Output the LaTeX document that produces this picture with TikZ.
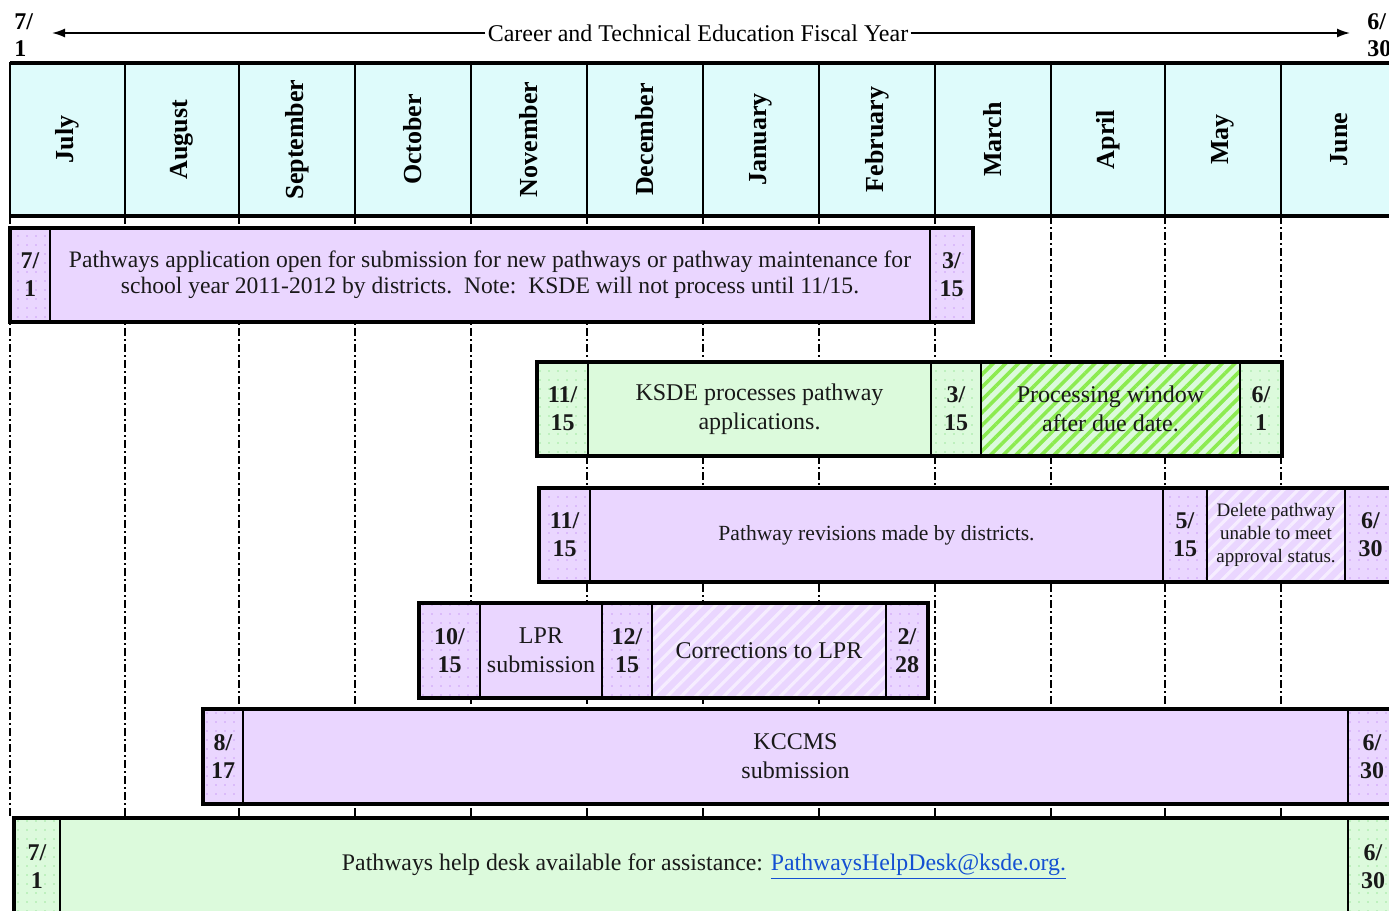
\documentclass[tikz,border=0pt]{standalone}
\usepackage{fontspec}
\setmainfont{Liberation Serif}
\usepackage{graphicx}
\usetikzlibrary{patterns.meta,arrows.meta}
\definecolor{hdr}{RGB}{222,251,251}
\definecolor{purp}{RGB}{234,214,255}
\definecolor{purdot}{RGB}{205,160,245}
\definecolor{grn}{RGB}{220,250,220}
\definecolor{grndot}{RGB}{160,230,160}
\definecolor{grnhatch}{RGB}{140,235,80}
\definecolor{linkblue}{RGB}{20,80,210}
\tikzset{
  x=0.5pt, y=-0.5pt,
  cell/.style={draw=black, line width=1pt, inner sep=0pt, outer sep=0pt, align=center, text=black!90},
  pmain/.style={fill=purp},
  gmain/.style={fill=grn},
  pdate/.style={preaction={fill=purp}, pattern={Dots[distance=4.5pt,radius=0.45pt]}, pattern color=purdot,
     font=\bfseries\fontsize{12}{14}\selectfont},
  gdate/.style={preaction={fill=grn}, pattern={Dots[distance=4.5pt,radius=0.45pt]}, pattern color=grndot,
     font=\bfseries\fontsize{12}{14}\selectfont},
  phatch/.style={preaction={fill=purp}, pattern={Lines[angle=45,distance=5pt,line width=1.6pt]}, pattern color=white!55!purp},
  ghatch/.style={preaction={fill=grn}, pattern={Lines[angle=45,distance=4.5pt,line width=1.8pt]}, pattern color=grnhatch},
  month/.style={draw=black, line width=1pt, fill=hdr, inner sep=0pt, outer sep=0pt,
     font=\bfseries\fontsize{13}{15}\selectfont},
  barframe/.style={draw=black, line width=1.6pt},
  grid/.style={line width=0.6pt, dash pattern=on 4pt off 1.5pt on 1pt off 1.5pt},
  arr/.style={line width=0.8pt, -{Latex[length=6.5pt,width=4.5pt]}},
}
% name, x1, x2, y1, y2, style, text
\newcommand\cellbox[7]{%
  \node[cell,#6, minimum width={(#3-#2)*0.5pt}, minimum height={(#5-#4)*0.5pt}]
     (#1) at ({(#2+#3)/2},{(#4+#5)/2}) {#7};}
\newcommand\monthbox[4]{%
  \node[month, minimum width={(#3-#2)*0.5pt}, minimum height={76.5pt}]
     (#1) at ({(#2+#3)/2},139.5) {\rotatebox{90}{#4}};}
\begin{document}
\begin{tikzpicture}
\useasboundingbox (0,0) rectangle (1389,911);
\clip (0,0) rectangle (1389,911);
\fill[white] (0,0) rectangle (1389,911);

% top line
\node[inner sep=1pt, font=\fontsize{12}{14}\selectfont] (title) at (698,33) {Career and Technical Education Fiscal Year};
\coordinate (al) at (52,33);
\coordinate (ar) at (1350,33);
\draw[arr] (title.west) -- (al);
\draw[arr] (title.east) -- (ar);
\node[anchor=west, align=left, inner sep=0pt, font=\bfseries\fontsize{12}{13.5}\selectfont] (d0) at (14,35) {7/\\1};
\node[anchor=west, align=left, inner sep=0pt, font=\bfseries\fontsize{12}{13.5}\selectfont] (d1) at (1367,35) {6/\\30};

% grid lines
\foreach \gx in {10,125,239,355,471,587,703,819,935,1051,1165,1281}
  \draw[grid] (\gx,216) -- (\gx,818);

% month header
\monthbox{m1}{10}{125}{July}
\monthbox{m2}{125}{239}{August}
\monthbox{m3}{239}{355}{September}
\monthbox{m4}{355}{471}{October}
\monthbox{m5}{471}{587}{November}
\monthbox{m6}{587}{703}{December}
\monthbox{m7}{703}{819}{January}
\monthbox{m8}{819}{935}{February}
\monthbox{m9}{935}{1051}{March}
\monthbox{m10}{1051}{1165}{April}
\monthbox{m11}{1165}{1281}{May}
\monthbox{m12}{1281}{1397}{June}
\draw[line width=1.6pt] (m1.north west) -- (m12.north east);
\draw[line width=1.6pt] (m1.south west) -- (m12.south east);

% bar 1
\cellbox{a1}{10}{50}{228}{322}{pdate}{7/\\1}
\cellbox{a2}{50}{930}{228}{322}{pmain, font=\fontsize{11.8}{13}\selectfont}{Pathways application open for submission for new pathways or pathway maintenance for\\school year 2011-2012 by districts.\ \ Note:\ \ KSDE will not process until 11/15.}
\cellbox{a3}{930}{973}{228}{322}{pdate}{3/\\15}
\draw[barframe] (a1.north west) rectangle (a3.south east);

% bar 2
\cellbox{b1}{537}{588}{362}{456}{gdate}{11/\\15}
\cellbox{b2}{588}{931}{362}{456}{gmain, font=\fontsize{12}{14.5}\selectfont}{KSDE processes pathway\\applications.}
\cellbox{b3}{931}{981}{362}{456}{gdate}{3/\\15}
\cellbox{b4}{981}{1240}{362}{456}{ghatch, font=\fontsize{12}{14.5}\selectfont}{Processing window\\after due date.}
\cellbox{b5}{1240}{1282}{362}{456}{gdate}{6/\\1}
\draw[barframe] (b1.north west) rectangle (b5.south east);

% bar 3
\cellbox{c1}{539}{590}{488}{582}{pdate}{11/\\15}
\cellbox{c2}{590}{1163}{488}{582}{pmain, font=\fontsize{10.8}{13}\selectfont}{Pathway revisions made by districts.}
\cellbox{c3}{1163}{1207}{488}{582}{pdate}{5/\\15}
\cellbox{c4}{1207}{1345}{488}{582}{phatch, font=\fontsize{9.5}{11.5}\selectfont}{Delete pathway\\unable to meet\\approval status.}
\cellbox{c5}{1345}{1396}{488}{582}{pdate}{6/\\30}
\draw[barframe] (c1.north west) rectangle (c5.south east);

% bar 4
\cellbox{e1}{419}{480}{603}{698}{pdate}{10/\\15}
\cellbox{e2}{480}{602}{603}{698}{pmain, font=\fontsize{12}{14.5}\selectfont}{LPR\\submission}
\cellbox{e3}{602}{652}{603}{698}{pdate}{12/\\15}
\cellbox{e4}{652}{886}{603}{698}{phatch, font=\fontsize{12}{14.5}\selectfont}{Corrections to LPR}
\cellbox{e5}{886}{928}{603}{698}{pdate}{2/\\28}
\draw[barframe] (e1.north west) rectangle (e5.south east);

% bar 5
\cellbox{f1}{203}{243}{709}{804}{pdate}{8/\\17}
\cellbox{f2}{243}{1348}{709}{804}{pmain, font=\fontsize{12}{14.5}\selectfont}{KCCMS\\submission}
\cellbox{f3}{1348}{1396}{709}{804}{pdate}{6/\\30}
\draw[barframe] (f1.north west) rectangle (f3.south east);

% bar 6
\cellbox{g1}{14}{60}{818}{915}{gdate}{7/\\1}
\cellbox{g2}{60}{1348}{818}{915}{gmain, font=\fontsize{11.9}{14}\selectfont}{Pathways help desk available for assistance: \textcolor{linkblue}{\underline{PathwaysHelpDesk@ksde.org.}}}
\cellbox{g3}{1348}{1398}{818}{915}{gdate}{6/\\30}
\draw[barframe] (g1.north west) rectangle (g3.south east);
\end{tikzpicture}
\end{document}
